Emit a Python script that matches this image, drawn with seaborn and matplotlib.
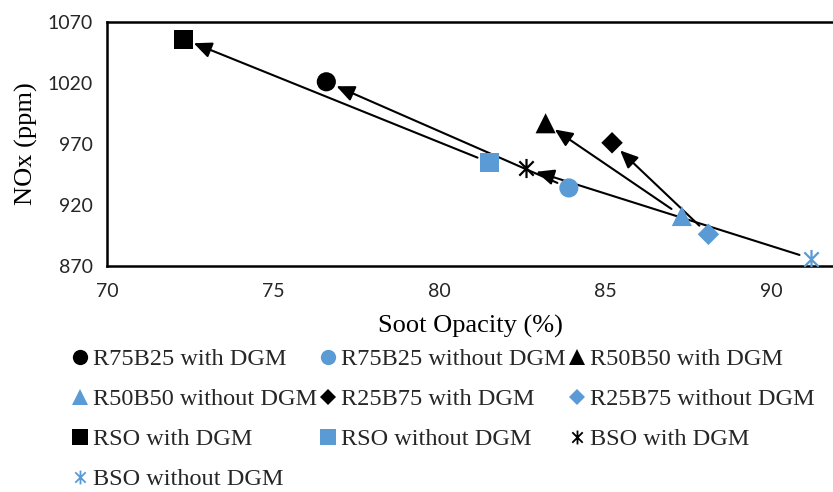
import numpy as np
import pandas as pd
import matplotlib
matplotlib.use("Agg")
import matplotlib.pyplot as plt
from matplotlib.lines import Line2D
from matplotlib.path import Path
import seaborn as sns

# Soot opacity (%) and NOx (ppm) for each fuel blend, with and without DGM
fuels = ["R75B25", "R50B50", "R25B75", "RSO", "BSO"]
opacity_with = [76.6, 83.2, 85.2, 72.3, 82.6]
nox_with = [1021, 987, 971, 1056, 950]
opacity_without = [83.9, 87.3, 88.1, 81.5, 91.2]
nox_without = [934, 911, 896, 955, 876]

x_ticks = [70, 75, 80, 85, 90]
y_ticks = [870, 920, 970, 1020, 1070]

BLACK = "#000000"
BLUE = "#5B9BD5"

# Excel-style star: vertical stroke plus an X
star = Path(
    [(0, -1), (0, 1), (-0.75, -0.75), (0.75, 0.75), (-0.75, 0.75), (0.75, -0.75)],
    [Path.MOVETO, Path.LINETO, Path.MOVETO, Path.LINETO, Path.MOVETO, Path.LINETO],
)
fuel_markers = {"R75B25": "o", "R50B50": "^", "R25B75": "D", "RSO": "s", "BSO": star}
marker_sizes = {"R75B25": 190, "R50B50": 210, "R25B75": 120, "RSO": 190, "BSO": 190}

sns.set_theme(style="white")
plt.rcParams["font.family"] = ["Liberation Serif", "DejaVu Serif"]

fig = plt.figure(figsize=(8.33, 4.92), dpi=100)
ax = fig.add_axes([0.1285, 0.4593, 0.8715, 0.496])

df = pd.DataFrame({
    "fuel": fuels * 2,
    "opacity": opacity_with + opacity_without,
    "nox": nox_with + nox_without,
    "dgm": ["with DGM"] * len(fuels) + ["without DGM"] * len(fuels),
})

# arrows from the "without DGM" point to the "with DGM" point
for xa, ya, xb, yb in zip(opacity_without, nox_without, opacity_with, nox_with):
    ax.annotate(
        "", xy=(xb, yb), xytext=(xa, ya),
        arrowprops=dict(arrowstyle="-|>,head_length=0.9,head_width=0.4", color=BLACK,
                        lw=1.5, shrinkA=9, shrinkB=8),
        zorder=2,
    )

for fuel in fuels:
    for dgm, color in [("with DGM", BLACK), ("without DGM", BLUE)]:
        sub = df[(df["fuel"] == fuel) & (df["dgm"] == dgm)]
        m = fuel_markers[fuel]
        if m is star:
            sns.scatterplot(data=sub, x="opacity", y="nox", marker=m, s=marker_sizes[fuel],
                            color=color, edgecolor=color, linewidth=1.6, ax=ax,
                            legend=False, zorder=3)
        else:
            sns.scatterplot(data=sub, x="opacity", y="nox", marker=m, s=marker_sizes[fuel],
                            color=color, edgecolor="none", linewidth=0, ax=ax,
                            legend=False, zorder=3)

ax.set_xlim(70, 91.85)
ax.set_ylim(870, 1070)
ax.set_xticks(x_ticks)
ax.set_yticks(y_ticks)
tick_font = dict(family="Lato", size=14)
ax.set_xticklabels([str(v) for v in x_ticks], **tick_font)
ax.set_yticklabels([str(v) for v in y_ticks], **tick_font)
ax.tick_params(axis="x", direction="inout", length=12, width=1.5, color=BLACK, pad=6)
ax.tick_params(axis="y", direction="out", length=6, width=1.5, color=BLACK, pad=4)
for side in ["left", "bottom", "top"]:
    ax.spines[side].set_visible(True)
    ax.spines[side].set_color(BLACK)
    ax.spines[side].set_linewidth(1.8)
ax.spines["right"].set_visible(False)
ax.grid(False)
ax.set_facecolor("white")

ax.set_xlabel("Soot Opacity (%)", fontsize=19, labelpad=11, color=BLACK)
ax.set_ylabel("NOx (ppm)", fontsize=19, labelpad=7, color=BLACK)

# legend entries, row by row
entries = []
for f in fuels:
    entries.append((f"{f} with DGM", fuel_markers[f], BLACK))
    entries.append((f"{f} without DGM", fuel_markers[f], BLUE))
handles = []
for label, m, c in entries:
    if m is star:
        h = Line2D([], [], linestyle="none", marker=m, markersize=10, color=c,
                   markeredgewidth=1.3, label=label)
    else:
        h = Line2D([], [], linestyle="none", marker=m, markersize=11 if m != "D" else 8.5,
                   color=c, markeredgewidth=0, label=label)
    handles.append(h)
order = [0, 3, 6, 9, 1, 4, 7, 2, 5, 8]
fig.legend([handles[i] for i in order], [entries[i][0] for i in order],
           ncol=3, loc="upper left", bbox_to_anchor=(0.085, 0.292), frameon=False,
           fontsize=17.5, handlelength=0.75, handletextpad=0.15, columnspacing=0.1,
           labelspacing=0.74, borderaxespad=0, borderpad=0)

fig.savefig("out.png", dpi=100, facecolor="white")
